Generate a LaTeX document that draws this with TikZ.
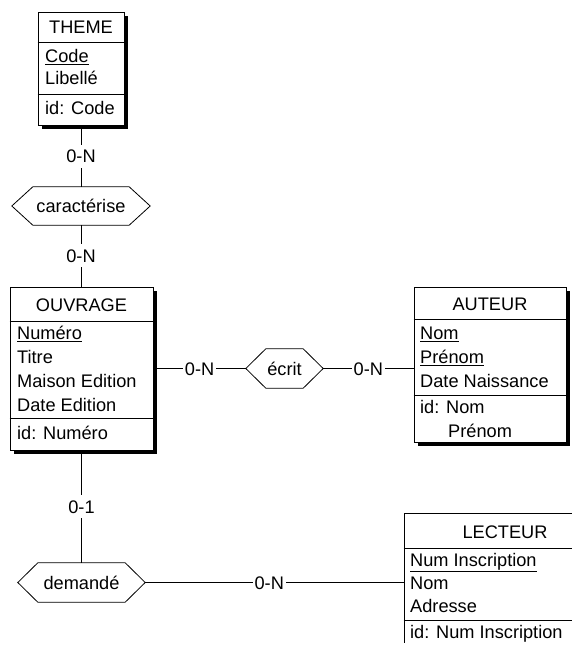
\documentclass[tikz,border=0pt]{standalone}
\usepackage{fontspec}
\setmainfont{Liberation Sans}
\usetikzlibrary{shadows,calc}
\begin{document}
\begin{tikzpicture}[x=1pt,y=-1pt,
  txt/.style={font=\fontsize{18.2pt}{22pt}\selectfont, text height=13pt, text depth=0pt, inner sep=0pt},
  entity/.style={draw=black, line width=0.8pt, fill=white, inner sep=0pt,
     drop shadow={shadow xshift=4pt, shadow yshift=-4pt, fill=black, opacity=1}},
  title/.style={txt, anchor=center},
  attr/.style={txt, anchor=west},
  rel/.style={txt, anchor=center},
  card/.style={txt, fill=white, inner xsep=2pt, inner ysep=5pt},
  conn/.style={draw=black, line width=0.8pt},
  hexline/.style={draw=black, line width=0.8pt, fill=white}
]
\newcommand\hexdraw[2]{\path[hexline] (#1.west) -- ([xshift=#2pt]#1.north west) -- ([xshift=-#2pt]#1.north east) -- (#1.east) -- ([xshift=-#2pt]#1.south east) -- ([xshift=#2pt]#1.south west) -- cycle;}
\useasboundingbox (0,0) rectangle (572,650);
\begin{scope}
\clip (0,0) rectangle (572,642);

% ---------- THEME ----------
\node[entity, minimum width=86pt, minimum height=113pt] (theme) at (81,68.5) {};
\node[title] (themeT) at (81,27) {THEME};
\draw[conn] (theme.west |- 0,42) -- (theme.east |- 0,42);
\draw[conn] (theme.west |- 0,94) -- (theme.east |- 0,94);
\node[attr] (theme1) at (45,56) {\underline{Code}};
\node[attr] (theme2) at (45,78) {Libellé};
\node[attr] (theme3) at (45,108) {id: Code};

% ---------- OUVRAGE ----------
\node[entity, minimum width=143pt, minimum height=163pt] (ouv) at (81.5,368.5) {};
\node[title] (ouvT) at (81.5,305) {OUVRAGE};
\draw[conn] (ouv.west |- 0,321) -- (ouv.east |- 0,321);
\draw[conn] (ouv.west |- 0,418) -- (ouv.east |- 0,418);
\node[attr] (ouv1) at (17,333) {\underline{Numéro}};
\node[attr] (ouv2) at (17,357) {Titre};
\node[attr] (ouv3) at (17,381) {Maison Edition};
\node[attr] (ouv4) at (17,405) {Date Edition};
\node[attr] (ouv5) at (17,433) {id: Numéro};

% ---------- AUTEUR ----------
\node[entity, minimum width=152pt, minimum height=155pt] (aut) at (490,364.5) {};
\node[title] (autT) at (490,304) {AUTEUR};
\draw[conn] (aut.west |- 0,319) -- (aut.east |- 0,319);
\draw[conn] (aut.west |- 0,395) -- (aut.east |- 0,395);
\node[attr] (aut1) at (420,333) {\underline{Nom}};
\node[attr] (aut2) at (420,357) {\underline{Prénom}};
\node[attr] (aut3) at (420,381) {Date Naissance};
\node[attr] (aut4) at (420,407) {id: Nom};
\node[attr] (aut5) at (448,431) {Prénom};

% ---------- LECTEUR ----------
\node[entity, minimum width=202pt, minimum height=147pt] (lec) at (505,586.5) {};
\node[title] (lecT) at (505,532) {LECTEUR};
\draw[conn] (lec.west |- 0,548) -- (lec.east |- 0,548);
\draw[conn] (lec.west |- 0,620) -- (lec.east |- 0,620);
\node[attr] (lec1) at (410,560) {\underline{Num Inscription}};
\node[attr] (lec2) at (410,583) {Nom};
\node[attr] (lec3) at (410,606) {Adresse};
\node[attr] (lec4) at (410,632) {id: Num Inscription};

% ---------- relations ----------
\node[rel, minimum width=138pt, minimum height=38pt] (car) at (81,206) {caractérise};
\hexdraw{car}{21}
\node[rel] at (car) {caractérise};
\node[rel, minimum width=77pt, minimum height=39pt] (ecr) at (284.5,368.5) {écrit};
\hexdraw{ecr}{20}
\node[rel] at (ecr) {écrit};
\node[rel, minimum width=127pt, minimum height=39pt] (dem) at (81.5,582.5) {demandé};
\hexdraw{dem}{20}
\node[rel] at (dem) {demandé};

% ---------- connectors ----------
\draw[conn] (theme.south -| car.north) -- node[card] {0-N} (car.north);
\draw[conn] (car.south) -- node[card] {0-N} (car.south |- ouv.north);
\draw[conn] (ouv.east |- ecr.west) -- node[card] {0-N} (ecr.west);
\draw[conn] (ecr.east) -- node[card] {0-N} (aut.west |- ecr.east);
\draw[conn] (ouv.south -| dem.north) -- node[card] {0-1} (dem.north);
\draw[conn] (dem.east) -- node[card, pos=0.48] {0-N} (lec.west |- dem.east);
\end{scope}
\end{tikzpicture}
\end{document}
